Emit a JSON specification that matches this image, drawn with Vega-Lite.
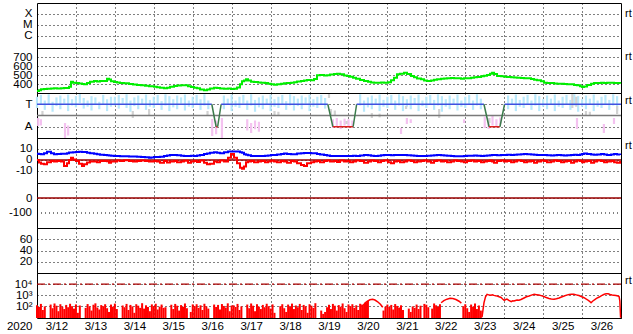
{
"$schema":"https://vega.github.io/schema/vega-lite/v6.json",
"background":"white",
"padding":{"left":5,"top":2,"right":5,"bottom":2},
"bounds":"flush",
"spacing":0,
"datasets":{
"sw":[
{"d":0.000,"v":322,"bt":5.7,"bz":0},{"d":0.051,"v":330,"bt":5.5,"bz":-2.4},{"d":0.103,"v":341,"bt":5.1,"bz":-3.5},{"d":0.180,"v":345,"bt":6,"bz":-3.9},{"d":0.257,"v":348,"bt":7.5,"bz":-2},{"d":0.360,"v":350,"bt":6,"bz":-0.9},{"d":0.437,"v":352,"bt":5.1,"bz":-1.5},{"d":0.514,"v":350,"bt":5.5,"bz":-1},{"d":0.616,"v":352,"bt":5.7,"bz":-1.5},{"d":0.694,"v":355,"bt":5.7,"bz":-5.4},{"d":0.771,"v":355,"bt":6.2,"bz":-3},{"d":0.822,"v":370,"bt":6.7,"bz":0},{"d":0.873,"v":426,"bt":6.7,"bz":2.1},{"d":0.925,"v":415,"bt":7,"bz":0.5},{"d":1.002,"v":410,"bt":7.3,"bz":-1},{"d":1.079,"v":405,"bt":7.5,"bz":-3.5},{"d":1.156,"v":400,"bt":7.3,"bz":-5.5},{"d":1.207,"v":396,"bt":7.3,"bz":-4},{"d":1.284,"v":410,"bt":6.5,"bz":-2.4},{"d":1.361,"v":425,"bt":6,"bz":-1.5},{"d":1.464,"v":433,"bt":5.7,"bz":-1.5},{"d":1.541,"v":428,"bt":5.2,"bz":-2},{"d":1.618,"v":433,"bt":4.8,"bz":-1},{"d":1.721,"v":433,"bt":4.5,"bz":-0.9},{"d":1.798,"v":459,"bt":4.2,"bz":-1.2},{"d":1.849,"v":450,"bt":4,"bz":-2.5},{"d":1.901,"v":430,"bt":3.8,"bz":-1.5},{"d":1.978,"v":422,"bt":3.6,"bz":-1.5},{"d":2.055,"v":418,"bt":3.6,"bz":-0.5},{"d":2.132,"v":412,"bt":3.4,"bz":-1},{"d":2.235,"v":407,"bt":3.3,"bz":-0.3},{"d":2.363,"v":400,"bt":3.2,"bz":-1},{"d":2.466,"v":395,"bt":3.1,"bz":-1.5},{"d":2.569,"v":389,"bt":3,"bz":-0.9},{"d":2.671,"v":385,"bt":2.8,"bz":-0.5},{"d":2.774,"v":380,"bt":2.4,"bz":-1},{"d":2.877,"v":376,"bt":2.1,"bz":-1.5},{"d":2.928,"v":374,"bt":2.3,"bz":-1.5},{"d":3.005,"v":370,"bt":2.7,"bz":-0.9},{"d":3.082,"v":365,"bt":2.7,"bz":-1.5},{"d":3.160,"v":358,"bt":3,"bz":-2.5},{"d":3.262,"v":352,"bt":3.6,"bz":-1},{"d":3.339,"v":358,"bt":4,"bz":-2.4},{"d":3.416,"v":370,"bt":4.5,"bz":-1.5},{"d":3.519,"v":378,"bt":4.5,"bz":-1},{"d":3.596,"v":382,"bt":4.2,"bz":-2},{"d":3.699,"v":385,"bt":3.8,"bz":-1.5},{"d":3.776,"v":385,"bt":3.6,"bz":-0.8},{"d":3.879,"v":375,"bt":3.6,"bz":-2.5},{"d":3.956,"v":368,"bt":3.8,"bz":-1.5},{"d":4.033,"v":359,"bt":3.6,"bz":-1},{"d":4.110,"v":352,"bt":4,"bz":-1.8},{"d":4.187,"v":340,"bt":4.5,"bz":-0.5},{"d":4.290,"v":330,"bt":5.5,"bz":-2.5},{"d":4.367,"v":338,"bt":5.8,"bz":-4},{"d":4.444,"v":350,"bt":6.5,"bz":-3.5},{"d":4.546,"v":359,"bt":7,"bz":-1.5},{"d":4.624,"v":355,"bt":6.5,"bz":-2},{"d":4.701,"v":350,"bt":6.2,"bz":-0.5},{"d":4.803,"v":348,"bt":7,"bz":-1.5},{"d":4.906,"v":350,"bt":7.6,"bz":2},{"d":4.983,"v":345,"bt":7.6,"bz":5.5},{"d":5.060,"v":348,"bt":7.6,"bz":2},{"d":5.137,"v":360,"bt":7.6,"bz":-3},{"d":5.214,"v":396,"bt":7,"bz":-7},{"d":5.266,"v":430,"bt":6.5,"bz":-8},{"d":5.317,"v":440,"bt":5.2,"bz":-6},{"d":5.369,"v":452,"bt":4.8,"bz":-2},{"d":5.420,"v":440,"bt":4.2,"bz":-1.5},{"d":5.497,"v":426,"bt":3.6,"bz":-1},{"d":5.574,"v":422,"bt":3.6,"bz":-2},{"d":5.677,"v":418,"bt":3.6,"bz":-1.5},{"d":5.754,"v":415,"bt":3.6,"bz":-1},{"d":5.857,"v":410,"bt":3.8,"bz":-2},{"d":5.934,"v":402,"bt":4,"bz":-1.5},{"d":6.011,"v":396,"bt":4.5,"bz":-0.8},{"d":6.088,"v":392,"bt":4.5,"bz":-1.5},{"d":6.165,"v":398,"bt":5,"bz":-2},{"d":6.268,"v":404,"bt":5.5,"bz":-1},{"d":6.345,"v":408,"bt":5.8,"bz":-1.5},{"d":6.422,"v":412,"bt":5.5,"bz":-2.5},{"d":6.524,"v":415,"bt":5.3,"bz":-1},{"d":6.602,"v":420,"bt":5.3,"bz":-1.5},{"d":6.679,"v":428,"bt":5.8,"bz":-3},{"d":6.781,"v":433,"bt":6.2,"bz":-4.5},{"d":6.858,"v":438,"bt":6.4,"bz":-5.5},{"d":6.935,"v":445,"bt":6.4,"bz":-3},{"d":7.038,"v":441,"bt":6,"bz":-2},{"d":7.115,"v":455,"bt":6,"bz":-1.5},{"d":7.192,"v":496,"bt":5.5,"bz":-1},{"d":7.269,"v":500,"bt":5,"bz":-2},{"d":7.372,"v":494,"bt":4.5,"bz":-1},{"d":7.449,"v":496,"bt":4,"bz":-0.5},{"d":7.526,"v":505,"bt":3.6,"bz":-1.5},{"d":7.629,"v":510,"bt":3.6,"bz":-1},{"d":7.706,"v":515,"bt":3.6,"bz":-1.8},{"d":7.783,"v":508,"bt":3.6,"bz":-0.5},{"d":7.886,"v":495,"bt":3.6,"bz":-1.5},{"d":7.963,"v":489,"bt":3.6,"bz":-1},{"d":8.040,"v":480,"bt":3.6,"bz":-2},{"d":8.117,"v":470,"bt":3.8,"bz":-1.5},{"d":8.194,"v":459,"bt":3.6,"bz":-0.5},{"d":8.297,"v":445,"bt":4,"bz":-1},{"d":8.399,"v":433,"bt":4.5,"bz":-2.5},{"d":8.502,"v":425,"bt":4.2,"bz":-1.5},{"d":8.579,"v":418,"bt":3.8,"bz":-0.5},{"d":8.656,"v":415,"bt":3.6,"bz":-1},{"d":8.759,"v":415,"bt":3.8,"bz":-2},{"d":8.836,"v":418,"bt":4.2,"bz":-1},{"d":8.913,"v":415,"bt":4.5,"bz":-0.5},{"d":9.016,"v":420,"bt":4.5,"bz":-2},{"d":9.093,"v":441,"bt":4.2,"bz":-3},{"d":9.170,"v":470,"bt":4.5,"bz":-1.5},{"d":9.247,"v":507,"bt":4.5,"bz":-1},{"d":9.324,"v":515,"bt":4.5,"bz":-2},{"d":9.427,"v":526,"bt":4.5,"bz":-1.5},{"d":9.504,"v":510,"bt":4.3,"bz":-0.5},{"d":9.607,"v":489,"bt":4,"bz":-1},{"d":9.684,"v":475,"bt":3.8,"bz":-2},{"d":9.761,"v":460,"bt":3.6,"bz":-1.5},{"d":9.864,"v":452,"bt":3.6,"bz":-1},{"d":9.941,"v":440,"bt":3.6,"bz":-0.5},{"d":10.018,"v":433,"bt":3.8,"bz":-1.5},{"d":10.121,"v":440,"bt":4,"bz":-2.5},{"d":10.198,"v":448,"bt":4.2,"bz":-1},{"d":10.275,"v":452,"bt":4.5,"bz":-0.5},{"d":10.377,"v":458,"bt":4.2,"bz":-1.5},{"d":10.455,"v":462,"bt":4,"bz":-1},{"d":10.532,"v":463,"bt":3.8,"bz":-2},{"d":10.634,"v":468,"bt":3.6,"bz":-1.5},{"d":10.712,"v":463,"bt":3.4,"bz":-0.5},{"d":10.789,"v":463,"bt":3.4,"bz":-1},{"d":10.891,"v":458,"bt":3.4,"bz":-1.5},{"d":10.968,"v":463,"bt":3.6,"bz":-2},{"d":11.045,"v":463,"bt":3.8,"bz":-1},{"d":11.148,"v":470,"bt":3.8,"bz":-0.5},{"d":11.225,"v":475,"bt":4,"bz":-1.5},{"d":11.302,"v":478,"bt":3.8,"bz":-1},{"d":11.405,"v":485,"bt":3.6,"bz":-2},{"d":11.482,"v":492,"bt":3.8,"bz":-1.5},{"d":11.559,"v":500,"bt":4,"bz":-1},{"d":11.636,"v":515,"bt":4.2,"bz":-0.5},{"d":11.688,"v":526,"bt":4.5,"bz":-1.5},{"d":11.739,"v":510,"bt":4.5,"bz":-2.5},{"d":11.816,"v":489,"bt":4.2,"bz":-1},{"d":11.919,"v":485,"bt":4.5,"bz":-0.5},{"d":11.996,"v":480,"bt":4.5,"bz":-1.5},{"d":12.073,"v":478,"bt":4.7,"bz":-1},{"d":12.176,"v":475,"bt":4.5,"bz":-2},{"d":12.253,"v":472,"bt":4.8,"bz":-1.5},{"d":12.330,"v":470,"bt":5,"bz":-0.5},{"d":12.432,"v":468,"bt":5.3,"bz":-1},{"d":12.510,"v":465,"bt":5.5,"bz":-2},{"d":12.587,"v":463,"bt":5.3,"bz":-1.5},{"d":12.689,"v":455,"bt":5,"bz":-1},{"d":12.766,"v":448,"bt":4.7,"bz":-2.5},{"d":12.843,"v":441,"bt":4.5,"bz":-1.5},{"d":12.946,"v":430,"bt":4.5,"bz":-0.5},{"d":13.023,"v":415,"bt":4.5,"bz":-1},{"d":13.100,"v":412,"bt":4.2,"bz":-2},{"d":13.203,"v":410,"bt":4,"bz":-1.5},{"d":13.280,"v":406,"bt":4.3,"bz":-0.5},{"d":13.357,"v":404,"bt":4.5,"bz":-1},{"d":13.460,"v":402,"bt":4.3,"bz":-2},{"d":13.537,"v":400,"bt":4,"bz":-1.5},{"d":13.614,"v":398,"bt":4.2,"bz":-1},{"d":13.717,"v":396,"bt":4.5,"bz":-2.5},{"d":13.794,"v":390,"bt":4.7,"bz":-1.5},{"d":13.871,"v":385,"bt":4.5,"bz":-0.5},{"d":13.948,"v":375,"bt":5,"bz":-1},{"d":14.000,"v":367,"bt":5.5,"bz":-2},{"d":14.051,"v":372,"bt":5.8,"bz":-1.5},{"d":14.128,"v":390,"bt":5.5,"bz":-1},{"d":14.231,"v":404,"bt":5,"bz":-2.5},{"d":14.308,"v":410,"bt":4.8,"bz":-1.5},{"d":14.385,"v":412,"bt":5,"bz":-0.5},{"d":14.488,"v":415,"bt":5.5,"bz":-1},{"d":14.565,"v":412,"bt":5,"bz":-2},{"d":14.642,"v":415,"bt":4.5,"bz":-1.5},{"d":14.745,"v":415,"bt":5,"bz":-1},{"d":14.822,"v":412,"bt":5.5,"bz":-2},{"d":14.899,"v":410,"bt":5,"bz":-2.5},{"d":14.976,"v":404,"bt":4.5,"bz":-1}
],
"phi":[
{"d":0.0,"lo":240,"hi":330,"k":"b"},{"d":0.1,"lo":265,"hi":345,"k":"b"},{"d":0.2,"lo":225,"hi":300,"k":"b"},{"d":0.3,"lo":270,"hi":350,"k":"b"},{"d":0.4,"lo":210,"hi":290,"k":"b"},{"d":0.5,"lo":255,"hi":325,"k":"b"},{"d":0.6,"lo":230,"hi":340,"k":"b"},{"d":0.7,"lo":275,"hi":315,"k":"b"},{"d":0.8,"lo":215,"hi":348,"k":"b"},{"d":0.9,"lo":260,"hi":310,"k":"b"},
{"d":1.0,"lo":245,"hi":335,"k":"b"},{"d":1.1,"lo":280,"hi":352,"k":"b"},{"d":1.2,"lo":235,"hi":320,"k":"b"},{"d":1.3,"lo":250,"hi":300,"k":"b"},{"d":1.4,"lo":220,"hi":335,"k":"b"},{"d":1.5,"lo":265,"hi":325,"k":"b"},{"d":1.6,"lo":230,"hi":290,"k":"b"},{"d":1.7,"lo":270,"hi":345,"k":"b"},{"d":1.8,"lo":215,"hi":310,"k":"b"},{"d":1.9,"lo":250,"hi":330,"k":"b"},
{"d":2.0,"lo":260,"hi":330,"k":"b"},{"d":2.1,"lo":235,"hi":345,"k":"b"},{"d":2.2,"lo":275,"hi":320,"k":"b"},{"d":2.3,"lo":240,"hi":350,"k":"b"},{"d":2.4,"lo":210,"hi":300,"k":"b"},{"d":2.5,"lo":255,"hi":325,"k":"b"},{"d":2.6,"lo":230,"hi":340,"k":"b"},{"d":2.7,"lo":265,"hi":315,"k":"b"},{"d":2.8,"lo":225,"hi":348,"k":"b"},{"d":2.9,"lo":250,"hi":305,"k":"b"},
{"d":3.0,"lo":240,"hi":330,"k":"b"},{"d":3.1,"lo":270,"hi":345,"k":"b"},{"d":3.2,"lo":225,"hi":295,"k":"b"},{"d":3.3,"lo":260,"hi":350,"k":"b"},{"d":3.4,"lo":215,"hi":335,"k":"b"},{"d":3.5,"lo":245,"hi":310,"k":"b"},{"d":3.6,"lo":230,"hi":340,"k":"b"},{"d":3.7,"lo":275,"hi":325,"k":"b"},{"d":3.8,"lo":220,"hi":348,"k":"b"},{"d":3.9,"lo":250,"hi":300,"k":"b"},
{"d":4.0,"lo":240,"hi":330,"k":"b"},{"d":4.1,"lo":265,"hi":345,"k":"b"},{"d":4.2,"lo":225,"hi":310,"k":"b"},{"d":4.3,"lo":260,"hi":350,"k":"b"},{"d":4.4,"lo":230,"hi":300,"k":"b"},
{"d":4.8,"lo":230,"hi":340,"k":"b"},{"d":4.9,"lo":265,"hi":315,"k":"b"},{"d":5.0,"lo":215,"hi":348,"k":"b"},{"d":5.1,"lo":250,"hi":300,"k":"b"},{"d":5.2,"lo":240,"hi":330,"k":"b"},{"d":5.3,"lo":275,"hi":345,"k":"b"},{"d":5.4,"lo":225,"hi":300,"k":"b"},{"d":5.5,"lo":260,"hi":350,"k":"b"},{"d":5.6,"lo":210,"hi":305,"k":"b"},{"d":5.7,"lo":245,"hi":325,"k":"b"},{"d":5.8,"lo":230,"hi":340,"k":"b"},{"d":5.9,"lo":270,"hi":315,"k":"b"},
{"d":6.0,"lo":215,"hi":348,"k":"b"},{"d":6.1,"lo":250,"hi":310,"k":"b"},{"d":6.2,"lo":240,"hi":330,"k":"b"},{"d":6.3,"lo":270,"hi":345,"k":"b"},{"d":6.4,"lo":225,"hi":295,"k":"b"},{"d":6.5,"lo":260,"hi":350,"k":"b"},{"d":6.6,"lo":220,"hi":335,"k":"b"},{"d":6.7,"lo":255,"hi":315,"k":"b"},{"d":6.8,"lo":230,"hi":340,"k":"b"},{"d":6.9,"lo":275,"hi":325,"k":"b"},
{"d":7.0,"lo":215,"hi":348,"k":"b"},{"d":7.1,"lo":250,"hi":310,"k":"b"},{"d":7.2,"lo":240,"hi":330,"k":"b"},{"d":7.3,"lo":265,"hi":345,"k":"b"},{"d":7.4,"lo":235,"hi":320,"k":"b"},
{"d":8.3,"lo":260,"hi":350,"k":"b"},{"d":8.4,"lo":210,"hi":300,"k":"b"},{"d":8.5,"lo":245,"hi":325,"k":"b"},{"d":8.6,"lo":230,"hi":340,"k":"b"},{"d":8.7,"lo":270,"hi":315,"k":"b"},{"d":8.8,"lo":215,"hi":348,"k":"b"},{"d":8.9,"lo":250,"hi":305,"k":"b"},
{"d":9.0,"lo":240,"hi":330,"k":"b"},{"d":9.1,"lo":265,"hi":345,"k":"b"},{"d":9.2,"lo":225,"hi":300,"k":"b"},{"d":9.3,"lo":260,"hi":350,"k":"b"},{"d":9.4,"lo":215,"hi":335,"k":"b"},{"d":9.5,"lo":250,"hi":310,"k":"b"},{"d":9.6,"lo":230,"hi":340,"k":"b"},{"d":9.7,"lo":270,"hi":320,"k":"b"},{"d":9.8,"lo":215,"hi":348,"k":"b"},{"d":9.9,"lo":255,"hi":300,"k":"b"},
{"d":10.0,"lo":240,"hi":330,"k":"b"},{"d":10.1,"lo":265,"hi":345,"k":"b"},{"d":10.2,"lo":225,"hi":305,"k":"b"},{"d":10.3,"lo":260,"hi":350,"k":"b"},{"d":10.4,"lo":210,"hi":335,"k":"b"},{"d":10.5,"lo":250,"hi":310,"k":"b"},{"d":10.6,"lo":230,"hi":340,"k":"b"},{"d":10.7,"lo":270,"hi":315,"k":"b"},{"d":10.8,"lo":220,"hi":348,"k":"b"},{"d":10.9,"lo":250,"hi":300,"k":"b"},
{"d":11.0,"lo":240,"hi":330,"k":"b"},{"d":11.1,"lo":265,"hi":345,"k":"b"},{"d":11.2,"lo":225,"hi":300,"k":"b"},{"d":11.3,"lo":260,"hi":350,"k":"b"},{"d":11.4,"lo":230,"hi":315,"k":"b"},
{"d":12.1,"lo":230,"hi":340,"k":"b"},{"d":12.2,"lo":265,"hi":315,"k":"b"},{"d":12.3,"lo":215,"hi":348,"k":"b"},{"d":12.4,"lo":250,"hi":305,"k":"b"},{"d":12.5,"lo":240,"hi":330,"k":"b"},{"d":12.6,"lo":270,"hi":345,"k":"b"},{"d":12.7,"lo":225,"hi":300,"k":"b"},{"d":12.8,"lo":260,"hi":350,"k":"b"},{"d":12.9,"lo":215,"hi":335,"k":"b"},
{"d":13.0,"lo":250,"hi":310,"k":"b"},{"d":13.1,"lo":230,"hi":340,"k":"b"},{"d":13.2,"lo":270,"hi":315,"k":"b"},{"d":13.3,"lo":215,"hi":348,"k":"b"},{"d":13.4,"lo":250,"hi":300,"k":"b"},{"d":13.5,"lo":240,"hi":330,"k":"b"},{"d":13.6,"lo":265,"hi":345,"k":"b"},{"d":13.7,"lo":225,"hi":305,"k":"b"},{"d":13.8,"lo":260,"hi":350,"k":"b"},{"d":13.9,"lo":210,"hi":335,"k":"b"},
{"d":14.0,"lo":250,"hi":310,"k":"b"},{"d":14.1,"lo":230,"hi":340,"k":"b"},{"d":14.2,"lo":270,"hi":315,"k":"b"},{"d":14.3,"lo":215,"hi":348,"k":"b"},{"d":14.4,"lo":250,"hi":300,"k":"b"},{"d":14.5,"lo":240,"hi":330,"k":"b"},{"d":14.6,"lo":265,"hi":345,"k":"b"},{"d":14.7,"lo":225,"hi":305,"k":"b"},{"d":14.8,"lo":260,"hi":350,"k":"b"},{"d":14.9,"lo":215,"hi":335,"k":"b"},
{"d":0.03,"lo":96,"hi":160,"k":"p"},{"d":0.1,"lo":100,"hi":150,"k":"p"},{"d":0.72,"lo":0,"hi":120,"k":"p"},{"d":0.8,"lo":20,"hi":100,"k":"p"},{"d":4.5,"lo":16,"hi":152,"k":"p"},{"d":4.6,"lo":30,"hi":140,"k":"p"},{"d":4.75,"lo":0,"hi":160,"k":"p"},{"d":5.4,"lo":60,"hi":150,"k":"p"},{"d":5.5,"lo":40,"hi":120,"k":"p"},{"d":5.6,"lo":70,"hi":140,"k":"p"},{"d":5.7,"lo":50,"hi":130,"k":"p"},{"d":7.6,"lo":80,"hi":150,"k":"p"},{"d":7.7,"lo":90,"hi":160,"k":"p"},{"d":7.8,"lo":72,"hi":140,"k":"p"},{"d":7.9,"lo":100,"hi":155,"k":"p"},{"d":8.0,"lo":85,"hi":150,"k":"p"},{"d":8.1,"lo":90,"hi":140,"k":"p"},{"d":9.35,"lo":32,"hi":80,"k":"p"},{"d":9.5,"lo":112,"hi":160,"k":"p"},{"d":9.6,"lo":120,"hi":150,"k":"p"},{"d":10.97,"lo":120,"hi":150,"k":"p"},{"d":11.5,"lo":80,"hi":170,"k":"p"},{"d":11.6,"lo":72,"hi":160,"k":"p"},{"d":11.7,"lo":100,"hi":176,"k":"p"},{"d":11.8,"lo":90,"hi":150,"k":"p"},{"d":11.9,"lo":110,"hi":165,"k":"p"},{"d":13.87,"lo":72,"hi":160,"k":"p"},{"d":14.56,"lo":40,"hi":112,"k":"p"},{"d":14.82,"lo":112,"hi":160,"k":"p"},
{"d":0.14,"lo":176,"hi":216,"k":"g"},{"d":2.46,"lo":160,"hi":216,"k":"g"},{"d":2.88,"lo":176,"hi":232,"k":"g"},{"d":4.38,"lo":176,"hi":216,"k":"g"},{"d":6.1,"lo":176,"hi":216,"k":"g"},{"d":6.2,"lo":180,"hi":210,"k":"g"},{"d":7.55,"lo":176,"hi":232,"k":"g"},{"d":7.65,"lo":180,"hi":220,"k":"g"},{"d":7.5,"lo":320,"hi":352,"k":"g"},{"d":7.95,"lo":112,"hi":136,"k":"g"},{"d":8.6,"lo":160,"hi":200,"k":"g"},{"d":8.8,"lo":165,"hi":195,"k":"g"},{"d":9.48,"lo":232,"hi":256,"k":"g"},{"d":10.33,"lo":160,"hi":232,"k":"g"},{"d":11.62,"lo":120,"hi":160,"k":"g"},{"d":13.75,"lo":240,"hi":352,"k":"g"},{"d":13.85,"lo":250,"hi":330,"k":"g"},{"d":14.1,"lo":176,"hi":216,"k":"g"},{"d":14.2,"lo":180,"hi":210,"k":"g"},{"d":14.9,"lo":192,"hi":256,"k":"g"}
],
"sector":[
{"d":0,"s":270,"g":1,"c":"b"},{"d":4.49,"s":270,"g":1,"c":"b"},
{"d":4.49,"s":270,"g":2,"c":"g"},{"d":4.60,"s":90,"g":2,"c":"g"},
{"d":4.60,"s":90,"g":3,"c":"r"},{"d":4.64,"s":90,"g":3,"c":"r"},
{"d":4.64,"s":90,"g":4,"c":"g"},{"d":4.73,"s":270,"g":4,"c":"g"},
{"d":4.73,"s":270,"g":5,"c":"b"},{"d":7.47,"s":270,"g":5,"c":"b"},
{"d":7.47,"s":270,"g":6,"c":"g"},{"d":7.60,"s":90,"g":6,"c":"g"},
{"d":7.60,"s":90,"g":7,"c":"r"},{"d":8.12,"s":90,"g":7,"c":"r"},
{"d":8.12,"s":90,"g":8,"c":"g"},{"d":8.21,"s":270,"g":8,"c":"g"},
{"d":8.21,"s":270,"g":9,"c":"b"},{"d":11.48,"s":270,"g":9,"c":"b"},
{"d":11.48,"s":270,"g":10,"c":"g"},{"d":11.61,"s":90,"g":10,"c":"g"},
{"d":11.61,"s":90,"g":11,"c":"r"},{"d":11.89,"s":90,"g":11,"c":"r"},
{"d":11.89,"s":90,"g":12,"c":"g"},{"d":12.01,"s":270,"g":12,"c":"g"},
{"d":12.01,"s":270,"g":13,"c":"b"},{"d":15,"s":270,"g":13,"c":"b"}
],
"spk":[
{"d":0.00,"f":120},{"d":0.05,"f":85},{"d":0.10,"f":160},{"d":0.15,"f":45},{"d":0.20,"f":95},{"d":0.35,"f":140},{"d":0.40,"f":65},{"d":0.45,"f":175},{"d":0.50,"f":110},{"d":0.55,"f":35},{"d":0.60,"f":150},{"d":0.65,"f":90},{"d":0.70,"f":55},{"d":0.75,"f":130},{"d":0.80,"f":80},{"d":0.85,"f":165},{"d":0.90,"f":100},{"d":0.95,"f":60},{"d":1.00,"f":145},{"d":1.05,"f":25},{"d":1.10,"f":115},
{"d":1.25,"f":70},{"d":1.30,"f":155},{"d":1.35,"f":95},{"d":1.40,"f":40},{"d":1.45,"f":135},{"d":1.50,"f":180},{"d":1.55,"f":75},{"d":1.60,"f":50},{"d":1.65,"f":125},{"d":1.70,"f":100},{"d":1.75,"f":150},{"d":1.80,"f":65},{"d":1.85,"f":30},{"d":1.90,"f":140},{"d":1.95,"f":90},{"d":2.00,"f":170},{"d":2.05,"f":55},
{"d":2.20,"f":115},{"d":2.25,"f":80},{"d":2.30,"f":160},{"d":2.35,"f":45},{"d":2.40,"f":130},{"d":2.45,"f":95},{"d":2.50,"f":25},{"d":2.55,"f":150},{"d":2.60,"f":110},{"d":2.65,"f":70},{"d":2.70,"f":185},{"d":2.75,"f":60},{"d":2.80,"f":120},{"d":2.85,"f":85},{"d":2.90,"f":35},{"d":2.95,"f":145},{"d":3.00,"f":100},{"d":3.05,"f":165},{"d":3.10,"f":50},{"d":3.15,"f":90},{"d":3.20,"f":140},{"d":3.25,"f":70},{"d":3.30,"f":80},
{"d":3.45,"f":135},{"d":3.50,"f":55},{"d":3.55,"f":160},{"d":3.60,"f":110},{"d":3.65,"f":40},{"d":3.70,"f":125},{"d":3.75,"f":90},{"d":3.80,"f":175},{"d":3.85,"f":65},{"d":3.95,"f":30},{"d":4.00,"f":145},{"d":4.05,"f":100},{"d":4.10,"f":150},{"d":4.15,"f":70},{"d":4.20,"f":120},{"d":4.25,"f":45},{"d":4.30,"f":165},{"d":4.35,"f":95},{"d":4.40,"f":60},
{"d":4.55,"f":140},{"d":4.60,"f":85},{"d":4.65,"f":130},{"d":4.70,"f":50},{"d":4.75,"f":155},{"d":4.80,"f":105},{"d":4.85,"f":75},{"d":4.90,"f":180},{"d":4.95,"f":35},{"d":5.00,"f":115},{"d":5.05,"f":120},{"d":5.10,"f":85},{"d":5.15,"f":160},{"d":5.20,"f":45},{"d":5.25,"f":95},
{"d":5.40,"f":140},{"d":5.45,"f":65},{"d":5.50,"f":175},{"d":5.55,"f":110},{"d":5.60,"f":35},{"d":5.65,"f":150},{"d":5.70,"f":90},{"d":5.75,"f":55},{"d":5.80,"f":130},{"d":5.85,"f":80},{"d":5.90,"f":165},{"d":5.95,"f":100},{"d":6.00,"f":60},{"d":6.05,"f":145},{"d":6.10,"f":25},
{"d":6.25,"f":100},{"d":6.30,"f":150},{"d":6.35,"f":65},{"d":6.40,"f":30},{"d":6.45,"f":140},{"d":6.50,"f":90},{"d":6.55,"f":170},{"d":6.60,"f":55},{"d":6.65,"f":115},{"d":6.70,"f":80},{"d":6.75,"f":160},{"d":6.80,"f":45},{"d":6.85,"f":130},{"d":6.90,"f":95},{"d":6.95,"f":25},{"d":7.00,"f":150},{"d":7.05,"f":110},{"d":7.10,"f":70},{"d":7.15,"f":185},
{"d":7.30,"f":40},{"d":7.35,"f":20},{"d":7.40,"f":30},{"d":7.45,"f":80},{"d":7.50,"f":135},{"d":7.55,"f":55},{"d":7.60,"f":160},{"d":7.65,"f":110},{"d":7.70,"f":40},{"d":7.75,"f":125},{"d":7.80,"f":90},{"d":7.85,"f":175},{"d":7.90,"f":65},{"d":7.95,"f":30},{"d":8.00,"f":145},{"d":8.05,"f":100},{"d":8.10,"f":150},{"d":8.15,"f":70},{"d":8.20,"f":120},{"d":8.25,"f":45},{"d":8.30,"f":165},{"d":8.35,"f":140},{"d":8.40,"f":160},{"d":8.45,"f":220},{"d":8.50,"f":300},
{"d":8.90,"f":40},{"d":8.95,"f":90},{"d":9.00,"f":140},{"d":9.05,"f":85},{"d":9.10,"f":130},{"d":9.15,"f":50},{"d":9.20,"f":155},{"d":9.25,"f":105},{"d":9.30,"f":75},{"d":9.35,"f":120},{"d":9.40,"f":45},{"d":9.55,"f":60},{"d":9.60,"f":30},{"d":9.65,"f":95},{"d":9.70,"f":70},{"d":9.75,"f":140},{"d":9.80,"f":55},{"d":9.85,"f":110},{"d":9.95,"f":160},{"d":10.00,"f":135},{"d":10.05,"f":80},{"d":10.15,"f":60},{"d":10.20,"f":175},{"d":10.25,"f":120},{"d":10.30,"f":90},{"d":10.35,"f":150},
{"d":10.95,"f":100},{"d":11.00,"f":150},{"d":11.05,"f":65},{"d":11.10,"f":30},{"d":11.15,"f":140},{"d":11.20,"f":90},{"d":11.25,"f":170},{"d":11.30,"f":55},{"d":11.35,"f":115},{"d":11.40,"f":40}
],
"fl":[
{"d":8.40,"f":160,"g":1},{"d":8.47,"f":260,"g":1},{"d":8.55,"f":380,"g":1},{"d":8.62,"f":417,"g":1},{"d":8.68,"f":360,"g":1},{"d":8.75,"f":250,"g":1},{"d":8.82,"f":150,"g":1},{"d":8.88,"f":80,"g":1},
{"d":10.38,"f":205,"g":2},{"d":10.45,"f":320,"g":2},{"d":10.53,"f":430,"g":2},{"d":10.61,"f":510,"g":2},{"d":10.68,"f":500,"g":2},{"d":10.76,"f":400,"g":2},{"d":10.84,"f":280,"g":2},{"d":10.90,"f":190,"g":2},
{"d":11.43,"f":10,"g":3},{"d":11.48,"f":200,"g":3},{"d":11.52,"f":700,"g":3},{"d":11.56,"f":1180,"g":3},{"d":11.62,"f":1000,"g":3},{"d":11.66,"f":960,"g":3},{"d":11.70,"f":1050,"g":3},{"d":11.74,"f":950,"g":3},{"d":11.78,"f":880,"g":3},{"d":11.82,"f":830,"g":3},{"d":11.87,"f":700,"g":3},{"d":11.92,"f":605,"g":3},{"d":11.96,"f":450,"g":3},{"d":12.00,"f":340,"g":3},{"d":12.04,"f":400,"g":3},{"d":12.07,"f":440,"g":3},{"d":12.12,"f":330,"g":3},{"d":12.18,"f":252,"g":3},{"d":12.22,"f":300,"g":3},{"d":12.25,"f":290,"g":3},{"d":12.29,"f":330,"g":3},{"d":12.33,"f":360,"g":3},{"d":12.38,"f":340,"g":3},{"d":12.43,"f":400,"g":3},{"d":12.47,"f":470,"g":3},{"d":12.51,"f":550,"g":3},{"d":12.57,"f":700,"g":3},{"d":12.64,"f":830,"g":3},{"d":12.70,"f":1000,"g":3},{"d":12.77,"f":1180,"g":3},{"d":12.83,"f":1100,"g":3},{"d":12.89,"f":1020,"g":3},{"d":12.95,"f":900,"g":3},{"d":13.02,"f":750,"g":3},{"d":13.08,"f":600,"g":3},{"d":13.15,"f":490,"g":3},{"d":13.21,"f":450,"g":3},{"d":13.28,"f":417,"g":3},{"d":13.34,"f":470,"g":3},{"d":13.41,"f":550,"g":3},{"d":13.47,"f":680,"g":3},{"d":13.54,"f":830,"g":3},{"d":13.60,"f":1000,"g":3},{"d":13.67,"f":1140,"g":3},{"d":13.73,"f":1200,"g":3},{"d":13.79,"f":1180,"g":3},{"d":13.85,"f":1050,"g":3},{"d":13.92,"f":920,"g":3},{"d":13.98,"f":750,"g":3},{"d":14.05,"f":580,"g":3},{"d":14.10,"f":450,"g":3},{"d":14.15,"f":360,"g":3},{"d":14.20,"f":260,"g":3},{"d":14.23,"f":205,"g":3},{"d":14.27,"f":280,"g":3},{"d":14.31,"f":360,"g":3},{"d":14.37,"f":500,"g":3},{"d":14.44,"f":670,"g":3},{"d":14.50,"f":900,"g":3},{"d":14.57,"f":1180,"g":3},{"d":14.62,"f":1300,"g":3},{"d":14.67,"f":1330,"g":3},{"d":14.72,"f":1150,"g":3},{"d":14.77,"f":1020,"g":3},{"d":14.82,"f":980,"g":3},{"d":14.87,"f":920,"g":3},{"d":14.92,"f":850,"g":3},{"d":14.95,"f":750,"g":3},{"d":14.97,"f":300,"g":3},{"d":14.99,"f":9,"g":3}
]
},
"vconcat":[
{"width":584,"height":45,"data":{"values":[{}]},
 "layer":[
  {"mark":{"type":"point","opacity":0},
   "encoding":{"x":{"datum":0,"type":"quantitative","scale":{"domain":[0,15],"nice":false,"zero":false},"axis":{"title":null,"labels":false,"tickCount":30,"values":[1,2,3,4,5,6,7,8,9,10,11,12,13,14]}},
    "y":{"datum":-7,"type":"quantitative","scale":{"domain":[-7.1,-3],"nice":false,"zero":false},"axis":{"title":null,"tickCount":20,"values":[-6,-5,-4],"labelOverlap":false,"labelBound":false,"labelExpr":"datum.value==-4?'X':datum.value==-5?'M':'C'"}}}},
  {"mark":{"type":"text","align":"left","baseline":"middle","dx":4,"fill":"#000000","color":"#000000"},
   "encoding":{"x":{"datum":15,"type":"quantitative"},"y":{"datum":-4,"type":"quantitative"},"text":{"value":"rt"}}}
 ]},
{"width":584,"height":45,
 "layer":[
  {"data":{"name":"sw"},"mark":{"type":"line","color":"#00ee00","strokeWidth":2,"interpolate":"step-after"},
   "encoding":{"x":{"field":"d","type":"quantitative","scale":{"domain":[0,15],"nice":false,"zero":false},"axis":{"title":null,"labels":false,"tickCount":30,"values":[1,2,3,4,5,6,7,8,9,10,11,12,13,14]}},
    "y":{"field":"v","type":"quantitative","scale":{"domain":[300,800],"nice":false,"zero":false},"axis":{"title":null,"tickCount":20,"values":[400,500,600,700],"labelOverlap":false,"labelBound":false}}}},
  {"data":{"values":[{}]},"mark":{"type":"text","align":"left","baseline":"middle","dx":4,"fill":"#000000","color":"#000000"},
   "encoding":{"x":{"datum":15,"type":"quantitative"},"y":{"datum":700,"type":"quantitative"},"text":{"value":"rt"}}}
 ]},
{"width":584,"height":45,
 "resolve":{"scale":{"color":"independent"}},
 "layer":[
  {"data":{"name":"phi"},"mark":{"type":"rule","strokeWidth":2.2},
   "encoding":{"x":{"field":"d","type":"quantitative","scale":{"domain":[0,15],"nice":false,"zero":false},"axis":{"title":null,"labels":false,"tickCount":30,"values":[1,2,3,4,5,6,7,8,9,10,11,12,13,14]}},
    "y":{"field":"lo","type":"quantitative","scale":{"domain":[0,360],"nice":false,"zero":false},"axis":{"title":null,"tickCount":20,"values":[90,270],"labelOverlap":false,"labelBound":false,"labelExpr":"datum.value==270?'T':'A'"}},
    "y2":{"field":"hi"},
    "color":{"field":"k","type":"nominal","scale":{"domain":["b","p","g"],"range":["#b8e8fb","#f4c2f0","#d2d2d2"]},"legend":null}}},
  {"data":{"values":[{}]},"mark":{"type":"rule","color":"#7a7a7a","strokeWidth":1.5},
   "encoding":{"y":{"datum":180,"type":"quantitative"}}},
  {"data":{"name":"sector"},"mark":{"type":"line","strokeWidth":1.5},
   "encoding":{"x":{"field":"d","type":"quantitative"},"y":{"field":"s","type":"quantitative"},"detail":{"field":"g","type":"nominal"},
    "color":{"field":"c","type":"nominal","scale":{"domain":["b","g","r"],"range":["#4050e0","#3a7a4a","#e02020"]},"legend":null}}},
  {"data":{"values":[{}]},"mark":{"type":"text","align":"left","baseline":"middle","dx":4,"dy":-3,"fill":"#000000","color":"#000000"},
   "encoding":{"x":{"datum":15,"type":"quantitative"},"y":{"datum":270,"type":"quantitative"},"text":{"value":"rt"}}}
 ]},
{"width":584,"height":45,
 "layer":[
  {"data":{"values":[{}]},"mark":{"type":"rule","color":"#990000","strokeWidth":1.5},
   "encoding":{"x":{"datum":0,"type":"quantitative","scale":{"domain":[0,15],"nice":false,"zero":false},"axis":{"title":null,"labels":false,"tickCount":30,"values":[1,2,3,4,5,6,7,8,9,10,11,12,13,14]}},
    "x2":{"datum":15},
    "y":{"datum":0,"type":"quantitative","scale":{"domain":[-21,20],"nice":false,"zero":false},"axis":{"title":null,"tickCount":20,"values":[-10,0,10],"labelOverlap":false,"labelBound":false,"labelExpr":"''+datum.value"}}}},
  {"data":{"name":"sw"},"mark":{"type":"line","color":"#0000ff","strokeWidth":2,"interpolate":"step-after"},
   "encoding":{"x":{"field":"d","type":"quantitative"},"y":{"field":"bt","type":"quantitative"}}},
  {"data":{"name":"sw"},"mark":{"type":"line","color":"#ff0000","strokeWidth":2,"interpolate":"step-after"},
   "encoding":{"x":{"field":"d","type":"quantitative"},"y":{"field":"bz","type":"quantitative"}}},
  {"data":{"values":[{}]},"mark":{"type":"text","align":"left","baseline":"middle","dx":4,"dy":-3,"fill":"#000000","color":"#000000"},
   "encoding":{"x":{"datum":15,"type":"quantitative"},"y":{"datum":10,"type":"quantitative"},"text":{"value":"rt"}}}
 ]},
{"width":584,"height":45,"data":{"values":[{}]},
 "layer":[
  {"mark":{"type":"rule","color":"#990000","strokeWidth":1.5},
   "encoding":{"x":{"datum":0,"type":"quantitative","scale":{"domain":[0,15],"nice":false,"zero":false},"axis":{"title":null,"labels":false,"tickCount":30,"values":[1,2,3,4,5,6,7,8,9,10,11,12,13,14]}},
    "x2":{"datum":15},
    "y":{"datum":0,"type":"quantitative","scale":{"domain":[-200,100],"nice":false,"zero":false},"axis":{"title":null,"tickCount":20,"values":[0],"labelOverlap":false,"labelBound":false,"labelExpr":"''+datum.value"}}}},
  {"mark":{"type":"rule","color":"#000000","strokeWidth":1,"strokeDash":[1,3]},
   "encoding":{"x":{"datum":0,"type":"quantitative"},"x2":{"datum":15},"y":{"datum":-100,"type":"quantitative"}}},
  {"mark":{"type":"text","align":"right","baseline":"middle","dx":-5,"fill":"#000000","color":"#000000","fontSize":11.5},
   "encoding":{"x":{"datum":0,"type":"quantitative"},"y":{"datum":-100,"type":"quantitative"},"text":{"value":"-100"}}}
 ]},
{"width":584,"height":45,"data":{"values":[{}]},
 "layer":[
  {"mark":{"type":"point","opacity":0},
   "encoding":{"x":{"datum":0,"type":"quantitative","scale":{"domain":[0,15],"nice":false,"zero":false},"axis":{"title":null,"labels":false,"tickCount":30,"values":[1,2,3,4,5,6,7,8,9,10,11,12,13,14]}},
    "y":{"datum":0,"type":"quantitative","scale":{"domain":[0,80],"nice":false,"zero":false},"axis":{"title":null,"tickCount":20,"values":[20,40,60],"labelOverlap":false,"labelBound":false}}}}
 ]},
{"width":584,"height":45,
 "layer":[
  {"data":{"name":"spk"},"mark":{"type":"rule","color":"#ff0000","strokeWidth":2},
   "encoding":{"x":{"field":"d","type":"quantitative","scale":{"domain":[0,15],"nice":false,"zero":false},
     "axis":{"title":"2020","tickCount":30,"values":[1,2,3,4,5,6,7,8,9,10,11,12,13,14,15],"labelExpr":"'3/'+(11+datum.value)","labelOffset":-19.47,"labelPadding":2,"labelFlush":false,"labelOverlap":false,"labelBound":false,"titleX":-5,"titleY":2,"titleAlign":"right","titleBaseline":"top","titleAnchor":"start"}},
    "y":{"field":"f","type":"quantitative","scale":{"type":"log","domain":[8.5,100000],"nice":false},"axis":{"title":null,"tickCount":20,"values":[100,1000,10000],"labelOverlap":false,"labelBound":false,"labelExpr":"'10'+(datum.value==10000?'⁴':datum.value==1000?'³':'²')"}},
    "y2":{"datum":8.5}}},
  {"data":{"name":"fl"},"mark":{"type":"line","color":"#ff0000","strokeWidth":1.5},
   "encoding":{"x":{"field":"d","type":"quantitative"},"y":{"field":"f","type":"quantitative"},"detail":{"field":"g","type":"nominal"}}},
  {"data":{"values":[{}]},"mark":{"type":"rule","color":"#aa0000","strokeWidth":1.2,"strokeDash":[8,3,2,3]},
   "encoding":{"y":{"datum":10000,"type":"quantitative"}}},
  {"data":{"values":[{}]},"mark":{"type":"text","align":"left","baseline":"middle","dx":4,"dy":-3,"fill":"#000000","color":"#000000"},
   "encoding":{"x":{"datum":15,"type":"quantitative"},"y":{"datum":10000,"type":"quantitative"},"text":{"value":"rt"}}}
 ]}
],
"config":{
 "view":{"stroke":"#000000","strokeWidth":1},
 "axis":{"domain":false,"ticks":false,"grid":true,"gridColor":"#000000","gridDash":[1,3],"gridOpacity":1,"gridWidth":1,"labelOverlap":false,"labelBound":false,
  "labelFont":"Liberation Sans Narrow, Liberation Sans, Arial, sans-serif","labelFontSize":11.5,"labelColor":"#000000",
  "titleFont":"Liberation Sans Narrow, Liberation Sans, Arial, sans-serif","titleFontSize":11.5,"titleFontWeight":"normal","titleColor":"#000000"},
 "axisY":{"minExtent":28,"maxExtent":28,"labelPadding":5},
 "text":{"font":"Liberation Sans Narrow, Liberation Sans, Arial, sans-serif","fontSize":11}
}
}
